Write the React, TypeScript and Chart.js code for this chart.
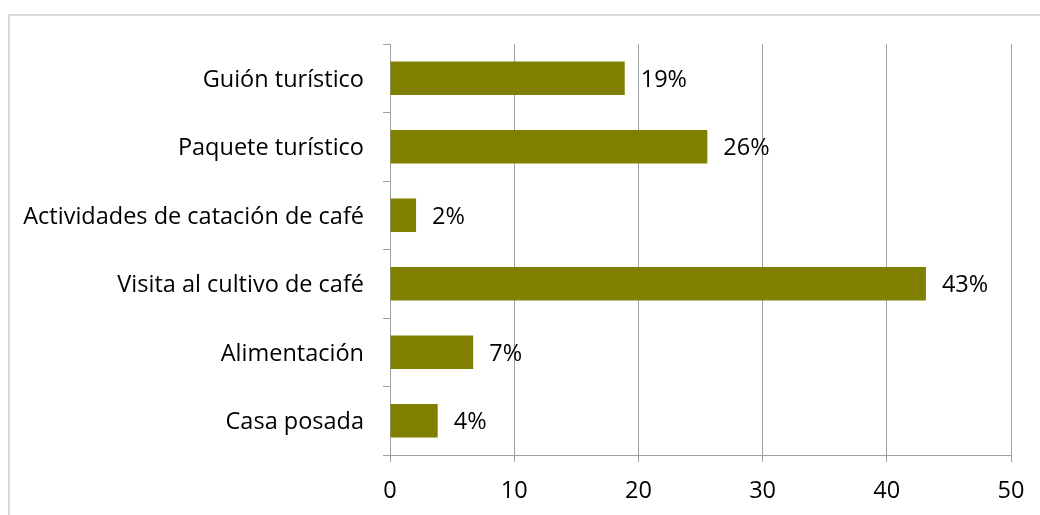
import React, { useEffect, useRef } from "react";
import { Chart, registerables } from "chart.js";

Chart.register(...registerables);

const categories = [
  "Guión turístico",
  "Paquete turístico",
  "Actividades de catación de café",
  "Visita al cultivo de café",
  "Alimentación",
  "Casa posada",
];
const values = [18.9, 25.55, 2.1, 43.15, 6.7, 3.84];
const valueLabels = ["19%", "26%", "2%", "43%", "7%", "4%"];
const xTicks = [0, 10, 20, 30, 40, 50];

const FONT = "'Open Sans'";
const FSIZE = 23.5;
const GRID = "#a0a0a0";

const borderPlugin = {
  id: "outerBorder",
  beforeDraw(chart: any) {
    const ctx = chart.ctx;
    ctx.save();
    ctx.strokeStyle = "#d9d9d9";
    ctx.lineWidth = 2;
    ctx.strokeRect(9, 15, 1100, 600);
    ctx.restore();
  },
};

const labelPlugin = {
  id: "valueLabels",
  afterDatasetsDraw(chart: any) {
    const ctx = chart.ctx;
    const meta = chart.getDatasetMeta(0);
    ctx.save();
    ctx.font = `${FSIZE}px ${FONT}`;
    ctx.fillStyle = "#000";
    ctx.textAlign = "left";
    ctx.textBaseline = "middle";
    meta.data.forEach((bar: any, i: number) => {
      ctx.fillText(valueLabels[i], bar.x + 16, bar.y + 2);
    });
    ctx.restore();
  },
};

export default function App() {
  const ref = useRef<HTMLCanvasElement>(null);
  useEffect(() => {
    if (!ref.current) return;
    const chart = new Chart(ref.current, {
      type: "bar",
      data: {
        labels: categories,
        datasets: [
          {
            data: values,
            backgroundColor: "#808000",
            barPercentage: 0.49,
            categoryPercentage: 1,
          },
        ],
      },
      options: {
        indexAxis: "y",
        responsive: false,
        animation: false,
        devicePixelRatio: 1,
        layout: { padding: { left: 0, top: 44, right: 29, bottom: 0 } },
        plugins: { legend: { display: false }, tooltip: { enabled: false } },
        scales: {
          x: {
            type: "linear",
            min: 0,
            max: 50,
            afterBuildTicks: (s: any) => {
              s.ticks = xTicks.map((v) => ({ value: v }));
            },
            afterFit: (s: any) => {
              s.height = 60;
            },
            grid: { color: GRID, lineWidth: 1, tickLength: 7, drawTicks: true },
            border: { color: GRID, width: 1 },
            ticks: { color: "#000", font: { family: FONT, size: FSIZE }, padding: 15 },
          },
          y: {
            type: "category",
            offset: true,
            afterFit: (s: any) => {
              s.width = 390;
            },
            grid: {
              offset: true,
              drawOnChartArea: false,
              color: GRID,
              tickLength: 7,
            },
            border: { color: GRID, width: 1 },
            ticks: {
              color: "#000",
              font: { family: FONT, size: FSIZE },
              padding: 19,
              labelOffset: 2,
            },
          },
        },
      },
      plugins: [borderPlugin, labelPlugin],
    });
    return () => chart.destroy();
  }, []);
  return (
    <div style={{ position: "fixed", left: 0, top: 0, width: 1040, height: 515, background: "#fff" }}>
      <canvas ref={ref} width={1040} height={515} style={{ width: 1040, height: 515, display: "block" }} />
    </div>
  );
}
